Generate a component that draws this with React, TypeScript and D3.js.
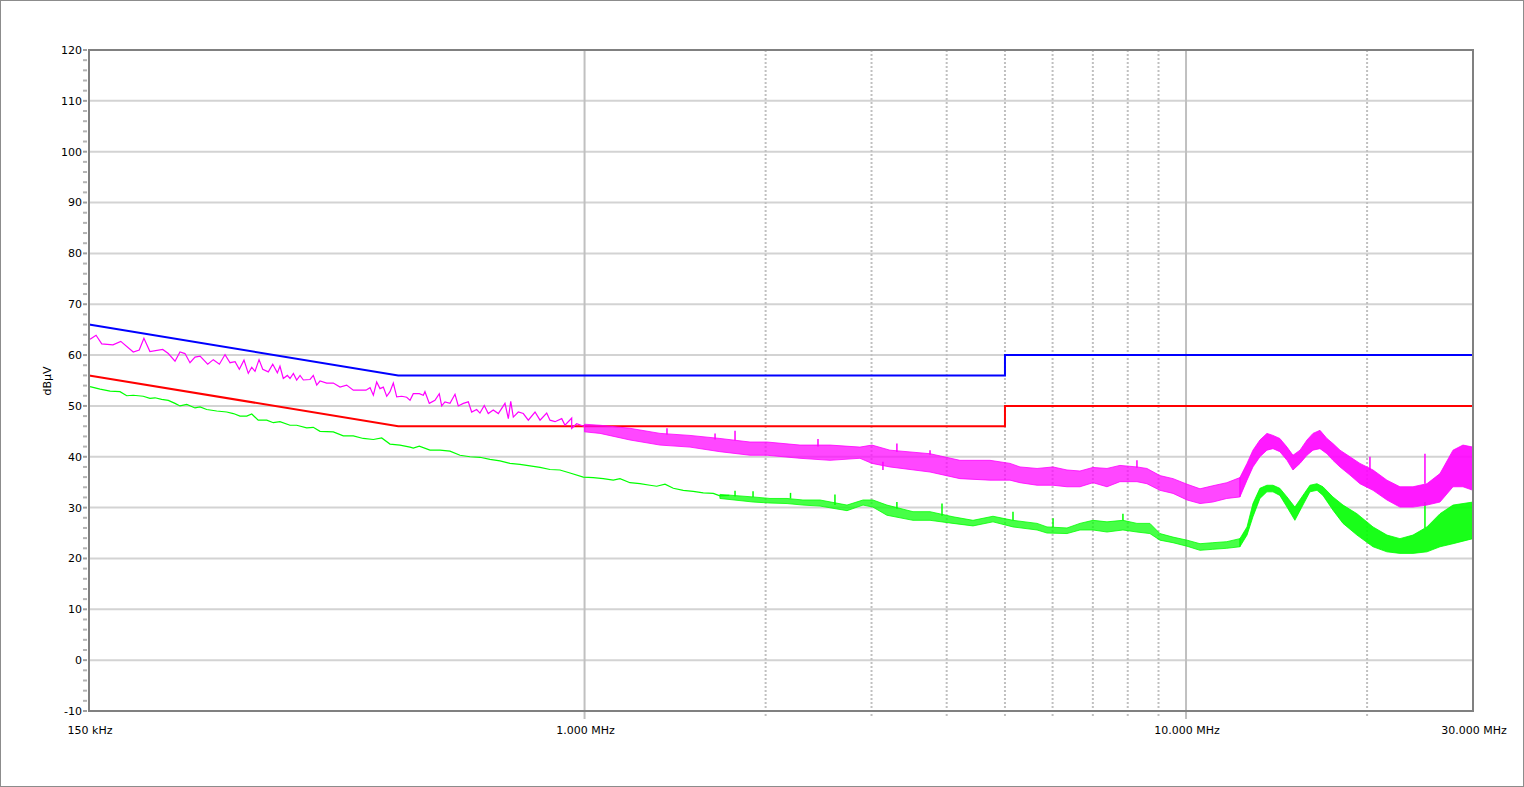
import React from 'react';
import * as d3 from 'd3';

// conducted emission scan, 150 kHz .. 30 MHz
const W = 1524;
const H = 787;
const margin = { top: 50, right: 51, bottom: 76, left: 89 };

const Y_TICKS = [-10, 0, 10, 20, 30, 40, 50, 60, 70, 80, 90, 100, 110, 120];
const X_LABELS: [number, string][] = [
  [0.15, '150 kHz'],
  [1, '1.000 MHz'],
  [10, '10.000 MHz'],
  [30, '30.000 MHz'],
];
const GRID_SOLID = [1, 10];
const GRID_DOTTED = [2, 3, 4, 5, 6, 7, 8, 9, 20];

// limit lines [MHz, dBµV]
const QP_LIMIT: [number, number][] = [[0.15, 66], [0.49, 56], [5, 56], [5, 60], [30, 60]];
const AV_LIMIT: [number, number][] = [[0.15, 56], [0.49, 46], [5, 46], [5, 50], [30, 50]];

// peak trace, low band (single line) [MHz, dBµV]
const PEAK_TRACE: [number, number][] = [
  [0.1506, 63.1], [0.1541, 63.9], [0.1575, 62.2], [0.1644, 62.0], [0.1694, 62.7], [0.1777, 60.6],
  [0.1818, 61.0], [0.1851, 63.3], [0.1894, 60.7], [0.1989, 61.1], [0.2032, 60.3], [0.2085, 58.8],
  [0.2125, 60.6], [0.2166, 60.3], [0.2208, 58.5], [0.2251, 59.6], [0.2295, 59.8], [0.2363, 58.2],
  [0.2414, 59.1], [0.2471, 58.2], [0.2525, 60.1], [0.2574, 58.5], [0.2624, 58.7], [0.2667, 57.2],
  [0.2715, 59.0], [0.276, 56.4], [0.2797, 57.6], [0.2832, 56.8], [0.2876, 59.1], [0.2917, 57.2],
  [0.298, 56.7], [0.3031, 58.2], [0.3085, 56.5], [0.3116, 57.8], [0.3156, 55.4], [0.3205, 56.0],
  [0.3238, 55.4], [0.328, 56.4], [0.3322, 55.1], [0.3365, 56.0], [0.3408, 55.1], [0.3496, 55.2],
  [0.354, 56.0], [0.3587, 54.1], [0.3632, 54.9], [0.3726, 54.5], [0.3822, 54.5], [0.3921, 53.7],
  [0.4022, 54.1], [0.4126, 53.1], [0.4331, 53.1], [0.4399, 53.6], [0.4455, 52.1], [0.4512, 54.7],
  [0.457, 53.4], [0.4628, 53.7], [0.4689, 51.9], [0.4748, 52.8], [0.4809, 54.5], [0.4872, 51.8],
  [0.4966, 51.9], [0.5062, 51.7], [0.5127, 51.1], [0.5191, 52.4], [0.5312, 52.4],
  [0.5394, 52.1], [0.5428, 52.8], [0.5519, 50.5], [0.564, 51.1], [0.5734, 52.4], [0.5787, 50.0],
  [0.586, 50.8], [0.5974, 50.5], [0.609, 52.3], [0.6167, 50.0], [0.6287, 50.5], [0.6408, 50.8],
  [0.6491, 48.8], [0.6616, 49.3], [0.67, 48.6], [0.6812, 50.1], [0.6917, 48.5], [0.705, 49.2],
  [0.7188, 48.5], [0.7374, 50.5], [0.7469, 47.5], [0.7538, 50.9], [0.7613, 47.8], [0.776, 48.8],
  [0.791, 48.5], [0.8063, 47.2], [0.8273, 48.8], [0.8433, 47.2], [0.8651, 48.6], [0.8761, 47.2],
  [0.893, 46.9], [0.9163, 47.5], [0.9278, 46.2], [0.952, 47.6], [0.952, 45.6], [0.9703, 46.5],
  [1.0017, 45.9],
];

// peak trace, dense part: [MHz, low, high]
const PEAK_BAND: [number, number, number][] = [
  [1.0, 44.9, 46.4], [1.061, 44.6, 46.2], [1.19, 43.3, 45.6], [1.335, 42.3, 44.6], [1.497, 41.9, 44.2],
  [1.679, 41.0, 43.6], [1.884, 40.3, 42.9], [2.011, 40.3, 42.9], [2.281, 39.7, 42.3], [2.559, 39.3, 42.3],
  [2.87, 39.7, 41.9], [3.005, 38.7, 42.3], [3.219, 38.0, 41.3], [3.753, 37.0, 40.6], [4.208, 35.7, 39.3],
  [4.721, 35.4, 39.3], [5.097, 35.4, 38.7], [5.296, 34.9, 38.0], [5.654, 34.4, 37.7], [6.01, 34.4, 38.0],
  [6.34, 34.1, 37.4], [6.663, 34.1, 37.2], [7.004, 34.9, 37.9], [7.389, 34.1, 37.7], [7.764, 35.1, 38.3],
  [8.287, 35.1, 38.0], [8.61, 34.7, 37.7], [9.049, 33.4, 36.3], [9.514, 32.8, 35.7], [10.04, 31.5, 34.6],
  [10.55, 30.8, 33.7], [11.08, 31.1, 34.3], [11.69, 31.8, 34.9], [12.29, 32.1, 35.9], [12.63, 35.4, 38.7],
  [12.92, 38.0, 41.3], [13.27, 40.0, 43.3], [13.63, 41.3, 44.6], [13.95, 41.6, 44.2], [14.32, 41.0, 43.6],
  [14.72, 39.3, 41.9], [15.06, 37.4, 40.3], [15.47, 38.7, 41.3], [15.89, 40.3, 43.3], [16.26, 41.3, 44.6],
  [16.7, 41.6, 45.2], [17.15, 40.6, 43.6], [17.55, 39.3, 42.6], [18.03, 38.0, 41.3], [18.73, 36.4, 40.0],
  [19.46, 34.7, 38.7], [20.46, 33.4, 37.4], [21.58, 31.5, 35.4], [22.68, 30.1, 34.1], [23.84, 30.1, 34.1],
  [25.15, 30.5, 34.7], [26.44, 31.1, 36.7], [27.79, 34.1, 41.3], [28.87, 34.1, 42.3], [30.0, 33.4, 41.9],
];
const PEAK_SPIKES: [number, number, number][] = [
  [1.371, 44.4, 45.6], [1.648, 43.4, 44.6], [1.779, 43.2, 45.1], [2.444, 42.0, 43.5], [3.134, 37.4, 39.0],
  [3.306, 41.0, 42.6], [3.753, 40.4, 41.3], [8.287, 37.9, 39.3], [20.22, 37.4, 40.0], [24.96, 34.7, 40.6],
];

// average trace, low band (single line)
const AVG_TRACE: [number, number][] = [
  [0.1506, 53.8], [0.1565, 53.3], [0.1626, 52.9], [0.1689, 52.8], [0.1733, 52.0], [0.1777, 52.1],
  [0.1846, 51.9], [0.1894, 51.5], [0.1931, 51.6], [0.1981, 51.3], [0.2032, 51.1], [0.2085, 50.5],
  [0.2125, 50.0], [0.2181, 50.3], [0.2251, 49.6], [0.2295, 49.8], [0.2354, 49.3], [0.2446, 49.0],
  [0.2541, 48.8], [0.2607, 48.5], [0.2674, 48.0], [0.2744, 48.0], [0.2797, 48.4], [0.2867, 47.2],
  [0.2962, 47.2], [0.3038, 46.7], [0.3116, 46.9], [0.3238, 46.2], [0.3322, 46.2], [0.3452, 45.7],
  [0.354, 45.8], [0.3632, 45.0], [0.3822, 44.9], [0.3971, 44.1], [0.4126, 44.1], [0.4286, 43.6],
  [0.4455, 43.4], [0.46, 43.7], [0.4748, 42.5], [0.4933, 42.3], [0.5127, 41.9], [0.5191, 41.7],
  [0.5312, 42.1],
  [0.5533, 41.3], [0.5749, 41.3], [0.5974, 41.1], [0.6207, 40.3], [0.6449, 40.0], [0.67, 39.9],
  [0.6962, 39.5], [0.7234, 39.2], [0.7516, 38.7], [0.7809, 38.5], [0.8117, 38.2], [0.8433, 37.9],
  [0.8761, 37.5], [0.9101, 37.4], [0.9459, 36.8], [0.9952, 36.0], [1.034, 35.9], [1.0743, 35.7],
  [1.1162, 35.4], [1.1453, 35.7], [1.1899, 34.9], [1.2362, 34.7], [1.2848, 34.4], [1.3181, 34.2],
  [1.3605, 34.6], [1.4046, 33.8], [1.4591, 33.4], [1.5162, 33.2], [1.5754, 32.9], [1.6368, 32.8],
  [1.6791, 32.3], [1.7403, 32.4],
];

const AVG_BAND: [number, number, number][] = [
  [1.679, 31.8, 32.6], [1.906, 31.1, 32.1], [2.034, 30.9, 31.8], [2.171, 30.8, 31.8], [2.307, 30.5, 31.5],
  [2.463, 30.3, 31.5], [2.731, 29.4, 30.5], [2.904, 30.5, 31.5], [3.016, 30.1, 31.5], [3.182, 28.5, 30.5],
  [3.516, 27.5, 29.2], [3.753, 27.5, 29.2], [4.098, 26.9, 28.2], [4.424, 26.4, 27.5], [4.776, 27.2, 28.3],
  [5.156, 26.2, 27.5], [5.654, 25.6, 26.9], [5.873, 25.0, 26.2], [6.34, 24.9, 26.0], [6.663, 25.6, 26.9],
  [7.004, 25.6, 27.5], [7.389, 25.2, 27.2], [7.854, 25.6, 27.5], [8.287, 25.2, 26.9], [8.709, 24.9, 26.9],
  [9.049, 23.6, 24.9], [9.514, 23.1, 24.2], [10.04, 22.4, 23.6], [10.55, 21.6, 22.9], [11.08, 21.8, 23.1],
  [11.69, 22.0, 23.3], [12.29, 22.3, 23.9], [12.63, 24.6, 26.2], [12.92, 28.2, 30.8], [13.27, 31.8, 33.8],
  [13.63, 33.1, 34.4], [13.95, 33.1, 34.4], [14.32, 32.4, 33.8], [14.72, 30.1, 32.1], [15.17, 27.5, 30.1],
  [15.58, 30.1, 32.1], [16.07, 33.1, 34.4], [16.51, 33.4, 34.7], [16.89, 32.4, 34.1], [17.55, 29.5, 32.1],
  [18.24, 26.9, 30.5], [19.24, 24.6, 28.8], [20.46, 22.3, 26.2], [21.58, 21.3, 24.6], [22.68, 21.0, 23.9],
  [23.84, 21.0, 24.6], [25.15, 21.3, 26.2], [26.44, 22.3, 28.8], [27.79, 22.9, 30.5], [30.0, 23.9, 31.1],
];
const AVG_SPIKES: [number, number, number][] = [
  [1.779, 32.2, 33.3], [1.906, 32.1, 33.2], [2.2, 31.8, 32.9], [2.608, 30.5, 32.6], [3.306, 29.8, 31.1],
  [3.929, 28.4, 30.8], [5.156, 27.5, 29.2], [6.01, 26.2, 27.9], [7.854, 27.5, 28.8], [24.96, 26.0, 31.1],
];

const FONT = '"DejaVu Sans", Verdana, sans-serif';

const App: React.FC = () => {
  const x = d3.scaleLog().domain([0.15, 30]).range([margin.left, W - margin.right]);
  const y = d3.scaleLinear().domain([-10, 120]).range([H - margin.bottom, margin.top]);
  const x0 = margin.left;
  const x1 = W - margin.right;
  const yTop = margin.top;
  const yBot = H - margin.bottom;

  const line = d3.line<[number, number]>().x(d => x(d[0])).y(d => y(d[1]));
  const band = d3.area<[number, number, number]>()
    .x(d => x(d[0]))
    .y0(d => y(d[1]))
    .y1(d => y(d[2]));

  const minorTicks = d3.range(-10, 120.1, 2).filter(v => v % 10 !== 0);

  // the scan gets denser above ~12 MHz
  const drawBand = (data: [number, number, number][], color: string) => {
    const lowPart = data.filter(d => d[0] <= 12.3);
    const highPart = data.filter(d => d[0] >= 12.29);
    return (
      <g>
        <path d={band(lowPart) || ''} fill={color} fillOpacity={0.72} stroke={color} strokeWidth={0.8} />
        <path d={band(highPart) || ''} fill={color} fillOpacity={0.9} stroke={color} strokeWidth={0.8} />
      </g>
    );
  };

  return (
    <div style={{ position: 'absolute', left: 0, top: 0 }}>
      <svg width={W} height={H} style={{ display: 'block', background: '#fff' }}>
        <rect x={0.5} y={0.5} width={W - 1} height={H - 1} fill="#fff" stroke="#8c8c8c" />

        {/* horizontal grid */}
        {Y_TICKS.filter(t => t < 120).map(t => (
          <line key={`h${t}`} x1={x0} x2={x1} y1={y(t)} y2={y(t)} stroke="#d3d3d3" strokeWidth={2} />
        ))}
        {/* vertical grid */}
        {GRID_DOTTED.map(f => (
          <line key={`d${f}`} x1={x(f)} x2={x(f)} y1={yTop} y2={yBot + 7}
            stroke="#c0c0c0" strokeWidth={2} strokeDasharray="2,2" />
        ))}
        {GRID_SOLID.map(f => (
          <line key={`s${f}`} x1={x(f)} x2={x(f)} y1={yTop} y2={yBot + 8} stroke="#c0c0c0" strokeWidth={2} />
        ))}

        {/* y ticks */}
        {minorTicks.map(t => (
          <line key={`m${t}`} x1={x0 - 6} x2={x0 - 2} y1={y(t)} y2={y(t)} stroke="#b4b4b4" strokeWidth={2} />
        ))}
        {Y_TICKS.map(t => (
          <g key={`t${t}`}>
            <line x1={x0 - 6} x2={x0 - 2} y1={y(t)} y2={y(t)} stroke="#a0a0a0" strokeWidth={2} />
            <text x={x0 - 7} y={y(t)} dy="0.36em" textAnchor="end" fontFamily={FONT} fontSize={11} fill="#000">
              {t}
            </text>
          </g>
        ))}

        {/* x labels */}
        {X_LABELS.map(([f, label]) => (
          <text key={label} x={x(f) + 1} y={734} textAnchor="middle" fontFamily={FONT} fontSize={11} fill="#000">
            {label}
          </text>
        ))}

        <text transform={`translate(51,381) rotate(-90)`} textAnchor="middle" fontFamily={FONT} fontSize={11} fill="#000">
          dBµV
        </text>

        {/* limits */}
        <path d={line(QP_LIMIT) || ''} fill="none" stroke="#0000ff" strokeWidth={2} />
        <path d={line(AV_LIMIT) || ''} fill="none" stroke="#ff0000" strokeWidth={2} />

        {/* average trace */}
        <path d={line(AVG_TRACE) || ''} fill="none" stroke="#00ff00" strokeWidth={1.2} />
        {drawBand(AVG_BAND, '#00ff00')}
        {AVG_SPIKES.map(([f, a, b], i) => (
          <line key={`ga${i}`} x1={x(f)} x2={x(f)} y1={y(a)} y2={y(b)} stroke="#00ff00" strokeWidth={1.5} />
        ))}

        {/* peak trace */}
        <path d={line(PEAK_TRACE) || ''} fill="none" stroke="#ff00ff" strokeWidth={1.2} />
        {drawBand(PEAK_BAND, '#ff00ff')}
        {PEAK_SPIKES.map(([f, a, b], i) => (
          <line key={`pk${i}`} x1={x(f)} x2={x(f)} y1={y(a)} y2={y(b)} stroke="#ff00ff" strokeWidth={1.5} />
        ))}

        {/* plot frame */}
        <rect x={x0} y={yTop} width={x1 - x0} height={yBot - yTop} fill="none" stroke="#808080" strokeWidth={2} />
      </svg>
    </div>
  );
};

export default App;
